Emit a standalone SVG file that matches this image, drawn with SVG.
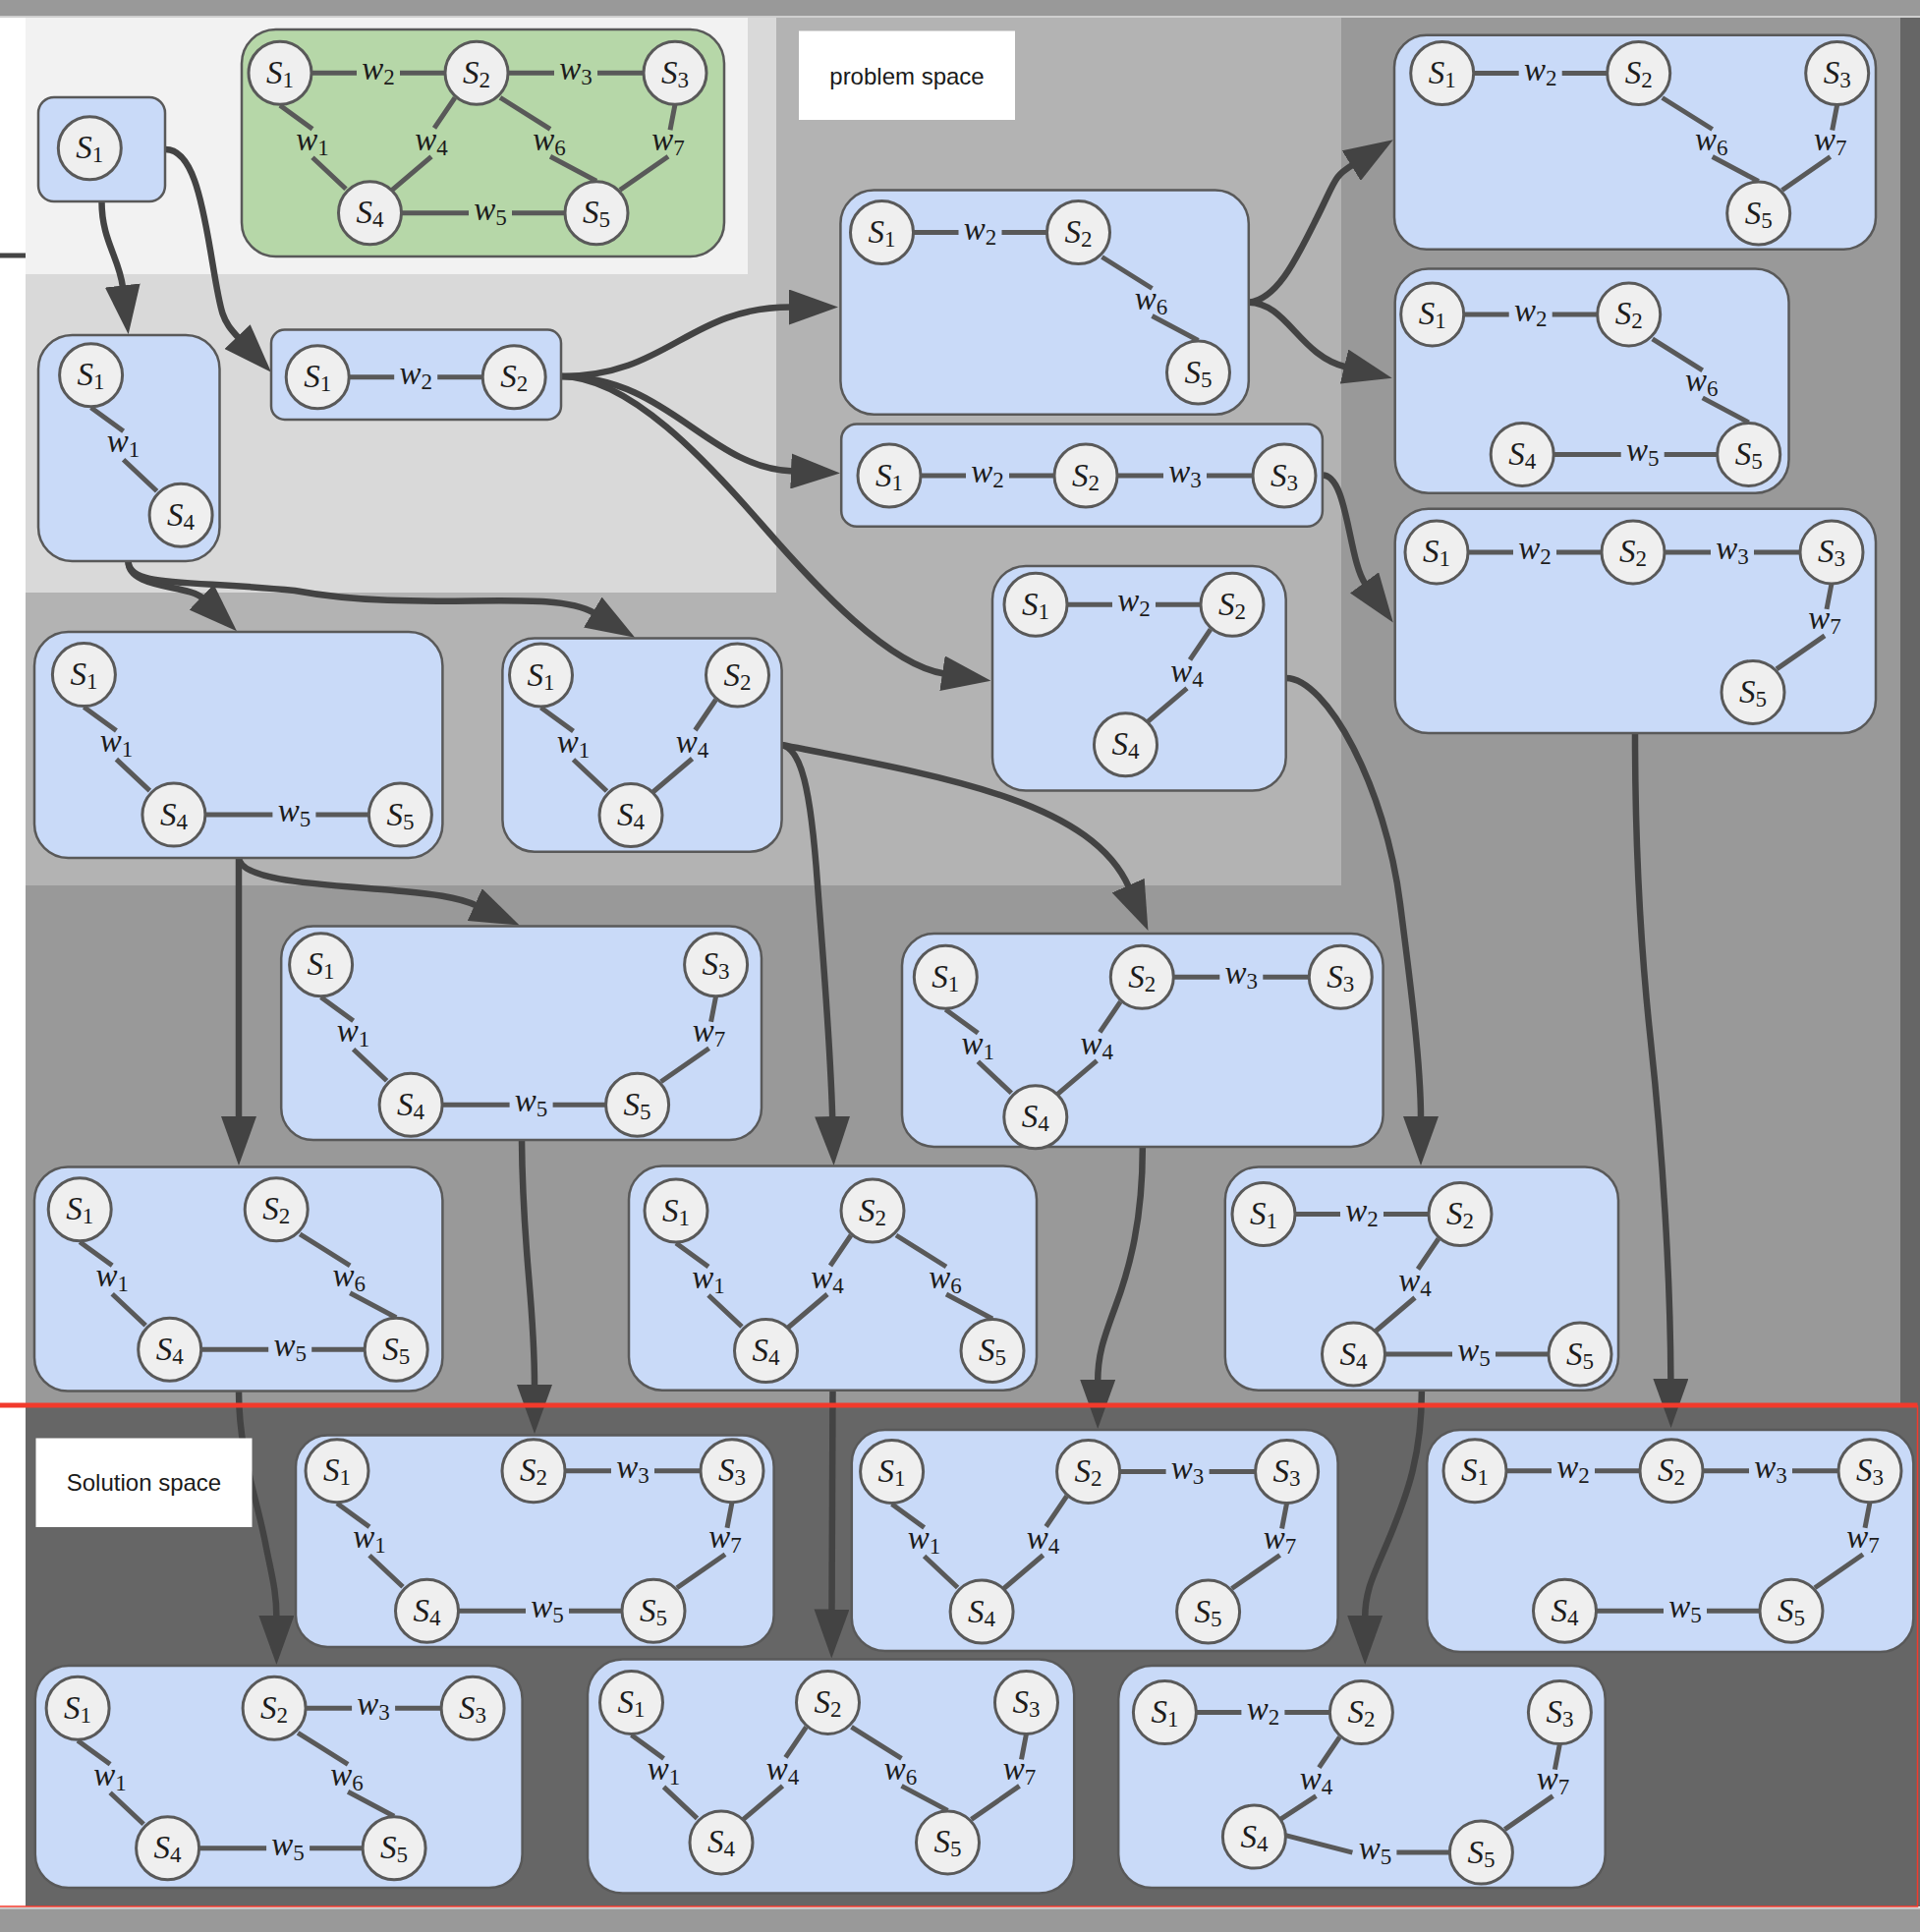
<svg xmlns="http://www.w3.org/2000/svg" width="1954" height="1966" viewBox="0 0 1954 1966">
<style>
.bx{fill:#c9daf8;stroke:#595959;stroke-width:2.5}
.gx{fill:#b6d7a8;stroke:#595959;stroke-width:2.5}
.cc{fill:#efefef;stroke:#595959;stroke-width:3}
.ln{fill:none;stroke:#595959;stroke-width:5}
.sl,.wl{font-family:"Liberation Serif","Times New Roman",serif;font-size:33px;font-style:italic;fill:#1c1c1c;text-anchor:middle}
.sub{font-size:23px;font-style:normal}
.cx path{fill:none;stroke:#434343;stroke-width:6.5;marker-end:url(#ah)}
.tagbox{fill:#ffffff}
.tag{font-family:"Liberation Sans",Arial,sans-serif;font-size:24px;fill:#1a1a1a;text-anchor:middle}
</style>
<defs>
  <marker id="ah" markerUnits="userSpaceOnUse" markerWidth="50" markerHeight="36" refX="2" refY="18" orient="auto">
    <path d="M0,0 L50,18 L0,36 Z" fill="#434343"/>
  </marker>
  <!-- state circles, positioned relative to S1 -->
  <g id="n1"><circle class="cc" r="32"/><text class="sl" y="10.5">S<tspan class="sub" dy="4">1</tspan></text></g>
  <g id="n2" transform="translate(200 0)"><circle class="cc" r="32"/><text class="sl" y="10.5">S<tspan class="sub" dy="4">2</tspan></text></g>
  <g id="n3" transform="translate(402 0)"><circle class="cc" r="32"/><text class="sl" y="10.5">S<tspan class="sub" dy="4">3</tspan></text></g>
  <g id="n4" transform="translate(91.5 142.5)"><circle class="cc" r="32"/><text class="sl" y="10.5">S<tspan class="sub" dy="4">4</tspan></text></g>
  <g id="n5" transform="translate(322 142.5)"><circle class="cc" r="32"/><text class="sl" y="10.5">S<tspan class="sub" dy="4">5</tspan></text></g>
  <g id="n4b" transform="translate(91 126.5)"><circle class="cc" r="32"/><text class="sl" y="10.5">S<tspan class="sub" dy="4">4</tspan></text></g>
  <!-- weighted edges -->
  <g id="e1"><path class="ln" d="M0,33 L33,57 M33,86 L67,118"/><text class="wl" x="33" y="78.5">w<tspan class="sub" dy="5">1</tspan></text></g>
  <g id="e2"><path class="ln" d="M32,0 H78 M122,0 H168"/><text class="wl" x="100" y="7">w<tspan class="sub" dy="5">2</tspan></text></g>
  <g id="e3"><path class="ln" d="M232,0 H279 M323,0 H370"/><text class="wl" x="301" y="7">w<tspan class="sub" dy="5">3</tspan></text></g>
  <g id="e4"><path class="ln" d="M178,25 L157,56 M154,85 L114,119"/><text class="wl" x="154" y="78.5">w<tspan class="sub" dy="5">4</tspan></text></g>
  <g id="e5"><path class="ln" d="M123,142.5 H192 M236,142.5 H290"/><text class="wl" x="214" y="149.5">w<tspan class="sub" dy="5">5</tspan></text></g>
  <g id="e6"><path class="ln" d="M224,25 L275,57 M275,85 L322,110"/><text class="wl" x="274" y="78.5">w<tspan class="sub" dy="5">6</tspan></text></g>
  <g id="e7"><path class="ln" d="M402,32 L397,58 M395,85 L346,119"/><text class="wl" x="395" y="78.5">w<tspan class="sub" dy="5">7</tspan></text></g>
  <g id="e4b"><path class="ln" d="M178,25 L157,56 M154,85 L118,108.5"/><text class="wl" x="154" y="78.5">w<tspan class="sub" dy="5">4</tspan></text></g>
  <g id="e5b"><path class="ln" d="M123,125 L191,142.5 M236,142.5 H290"/><text class="wl" x="214" y="149.5">w<tspan class="sub" dy="5">5</tspan></text></g>
</defs>

<!-- layered background bands -->
<g id="backdrop">
  <rect x="0" y="0" width="1954" height="1966" fill="#ffffff"/>
  <rect x="0" y="0" width="1954" height="16.5" fill="#999999"/>
  <rect x="0" y="16.5" width="1954" height="1.5" fill="#d0d0d0"/>
  <rect x="26" y="18" width="1908" height="1412" fill="#999999"/>
  <rect x="1934" y="18" width="20" height="1412" fill="#666666"/>
  <rect x="26" y="18" width="1339" height="883" fill="#b3b3b3"/>
  <rect x="26" y="18" width="764" height="585" fill="#d9d9d9"/>
  <rect x="26" y="18" width="735" height="261" fill="#f2f2f2"/>
  <rect x="0" y="257.5" width="26" height="5" fill="#444444"/>
  <rect x="26" y="1430" width="1928" height="510" fill="#666666"/>
  <rect x="0" y="1941" width="1954" height="1.5" fill="#d0d0d0"/>
  <rect x="0" y="1942.5" width="1954" height="23.5" fill="#999999"/>
</g>

<g id="connectors" class="cx">
  <path d="M103.5,205 C103.5,245 121.4,262.2 125,292.5"/>
  <path d="M168.4,152 C195,152 205,200 215,260 S225,325 243,344"/>
  <path d="M130.5,571 C130.5,600 191.5,594.5 206.5,609"/>
  <path d="M130.5,571 C131,598 190,590 300,601 C430,625 560,597 605,624"/>
  <path d="M571.2,383 C680,383 700,312.5 805,312.5"/>
  <path d="M571.2,383 C680,383 720,476 807,479.5"/>
  <path d="M571.2,383 C640,383 720,470 776,534.5 C832,599 905,677 961,685.5"/>
  <path d="M1270.8,307.7 C1300,305 1320,262 1340,222 S1357,180 1377,167.6"/>
  <path d="M1270.8,307.7 C1310,308 1322,362 1370,373.5"/>
  <path d="M1346,483.6 C1372,483.6 1372,570 1389.7,594.5"/>
  <path d="M795.6,758 C815,762 825,800 832,900 C838,980 845,1060 847.2,1138"/>
  <path d="M795.6,758 C960,790 1110,815 1149,903"/>
  <path d="M1308.7,690 C1350,690 1410,800 1425,920 C1434,990 1446,1080 1446,1138"/>
  <path d="M1664,746 C1664,850 1668,950 1680,1060 C1692,1170 1700,1300 1700.4,1405"/>
  <path d="M243,873 L243,1138"/>
  <path d="M243,873 C245,897 330,900 400,906 C430,909 462,911 485,921.5"/>
  <path d="M531,1160 C532,1280 544,1320 544,1411"/>
  <path d="M243,1415.5 C243,1480 262,1525 271,1575 C277,1605 281.4,1620 281.4,1646"/>
  <path d="M847.5,1414.7 L846.5,1639.5"/>
  <path d="M1162.8,1167 C1163,1240 1150,1290 1135,1330 C1122,1365 1117.2,1380 1117.2,1406"/>
  <path d="M1446.9,1414.7 C1447,1480 1432,1520 1418,1555 C1400,1600 1389.2,1615 1389.2,1646"/>
</g>

<g id="full-graph">
  <rect class="gx" x="246" y="30" width="491" height="231" rx="34.6"/>
  <g transform="translate(285 74.3)">
    <use href="#e1"/><use href="#e2"/><use href="#e3"/><use href="#e4"/><use href="#e5"/><use href="#e6"/><use href="#e7"/>
    <use href="#n1"/><use href="#n2"/><use href="#n3"/><use href="#n4"/><use href="#n5"/>
  </g>
</g>

<g id="g-s1">
  <rect class="bx" x="39" y="99" width="129" height="106" rx="16"/>
  <g transform="translate(91.3 150.7)"><use href="#n1"/></g>
</g>

<g id="g-w1">
  <rect class="bx" x="39" y="341" width="184.5" height="230" rx="34.5"/>
  <g transform="translate(92.6 381.7)"><use href="#e1"/><use href="#n1"/><use href="#n4"/></g>
</g>

<g id="g-w2">
  <rect class="bx" x="276" y="335.5" width="295" height="91.5" rx="13.7"/>
  <g transform="translate(323.2 383.8)"><use href="#e2"/><use href="#n1"/><use href="#n2"/></g>
</g>

<g id="g-w2w6">
  <rect class="bx" x="855.4" y="193.6" width="415.4" height="228.1" rx="34"/>
  <g transform="translate(897.5 236.5)"><use href="#e2"/><use href="#e6"/><use href="#n1"/><use href="#n2"/><use href="#n5"/></g>
</g>

<g id="g-w2w3">
  <rect class="bx" x="856.2" y="431.4" width="489.7" height="104.4" rx="15.7"/>
  <g transform="translate(905 484)"><use href="#e2"/><use href="#e3"/><use href="#n1"/><use href="#n2"/><use href="#n3"/></g>
</g>

<g id="g-w2w6w7">
  <rect class="bx" x="1419" y="35.8" width="490" height="218" rx="32.7"/>
  <g transform="translate(1467.7 74.5)"><use href="#e2"/><use href="#e6"/><use href="#e7"/><use href="#n1"/><use href="#n2"/><use href="#n3"/><use href="#n5"/></g>
</g>

<g id="g-w2w6w5">
  <rect class="bx" x="1419.7" y="273.6" width="400.8" height="228.1" rx="34"/>
  <g transform="translate(1457.7 319.9)"><use href="#e2"/><use href="#e6"/><use href="#e5"/><use href="#n1"/><use href="#n2"/><use href="#n4"/><use href="#n5"/></g>
</g>

<g id="g-w2w3w7">
  <rect class="bx" x="1419.7" y="517.7" width="489.3" height="228.3" rx="34"/>
  <g transform="translate(1462 561.9)"><use href="#e2"/><use href="#e3"/><use href="#e7"/><use href="#n1"/><use href="#n2"/><use href="#n3"/><use href="#n5"/></g>
</g>

<g id="g-w2w4">
  <rect class="bx" x="1010" y="576" width="298.7" height="228.5" rx="34"/>
  <g transform="translate(1054 615.3)"><use href="#e2"/><use href="#e4"/><use href="#n1"/><use href="#n2"/><use href="#n4"/></g>
</g>

<g id="g-w1w5">
  <rect class="bx" x="35" y="643" width="415.4" height="230" rx="34.5"/>
  <g transform="translate(85.4 686.6)"><use href="#e1"/><use href="#e5"/><use href="#n1"/><use href="#n4"/><use href="#n5"/></g>
</g>

<g id="g-w1w4">
  <rect class="bx" x="511.4" y="649.5" width="284.2" height="217.3" rx="32.6"/>
  <g transform="translate(550.5 687)"><use href="#e1"/><use href="#e4"/><use href="#n1"/><use href="#n2"/><use href="#n4"/></g>
</g>

<g id="g-w1w5w7">
  <rect class="bx" x="286.2" y="942.5" width="488.8" height="217.6" rx="32.6"/>
  <g transform="translate(326.6 981.7)"><use href="#e1"/><use href="#e5"/><use href="#e7"/><use href="#n1"/><use href="#n3"/><use href="#n4"/><use href="#n5"/></g>
</g>

<g id="g-w1w4w3">
  <rect class="bx" x="918" y="950" width="489.6" height="217" rx="32.6"/>
  <g transform="translate(962.3 994.3)"><use href="#e1"/><use href="#e4"/><use href="#e3"/><use href="#n1"/><use href="#n2"/><use href="#n3"/><use href="#n4"/></g>
</g>

<g id="g-w1w5w6">
  <rect class="bx" x="35" y="1187.5" width="415.4" height="228" rx="34"/>
  <g transform="translate(81.2 1230.8)"><use href="#e1"/><use href="#e6"/><use href="#e5"/><use href="#n1"/><use href="#n2"/><use href="#n4"/><use href="#n5"/></g>
</g>

<g id="g-w1w4w6">
  <rect class="bx" x="640" y="1186.6" width="415" height="228.1" rx="34"/>
  <g transform="translate(688 1232)"><use href="#e1"/><use href="#e4"/><use href="#e6"/><use href="#n1"/><use href="#n2"/><use href="#n4"/><use href="#n5"/></g>
</g>

<g id="g-w2w4w5">
  <rect class="bx" x="1246.8" y="1187.5" width="400.2" height="227.2" rx="34"/>
  <g transform="translate(1286 1235.5)"><use href="#e2"/><use href="#e4"/><use href="#e5"/><use href="#n1"/><use href="#n2"/><use href="#n4"/><use href="#n5"/></g>
</g>

<g id="g-w1w5w3w7">
  <rect class="bx" x="301" y="1460.5" width="486.6" height="215.4" rx="32.3"/>
  <g transform="translate(343 1496.7)"><use href="#e1"/><use href="#e5"/><use href="#e3"/><use href="#e7"/><use href="#n1"/><use href="#n2"/><use href="#n3"/><use href="#n4"/><use href="#n5"/></g>
</g>

<g id="g-w1w4w3w7">
  <rect class="bx" x="866.8" y="1455" width="494.8" height="225.1" rx="33.8"/>
  <g transform="translate(907.6 1497.5)"><use href="#e1"/><use href="#e4"/><use href="#e3"/><use href="#e7"/><use href="#n1"/><use href="#n2"/><use href="#n3"/><use href="#n4"/><use href="#n5"/></g>
</g>

<g id="g-w2w3w7w5">
  <rect class="bx" x="1452.2" y="1455" width="495.1" height="226" rx="33.9"/>
  <g transform="translate(1501 1496.7)"><use href="#e2"/><use href="#e3"/><use href="#e7"/><use href="#e5"/><use href="#n1"/><use href="#n2"/><use href="#n3"/><use href="#n4"/><use href="#n5"/></g>
</g>

<g id="g-w1w3w6w5">
  <rect class="bx" x="35.8" y="1695" width="495.8" height="226" rx="33.9"/>
  <g transform="translate(79.1 1738.3)"><use href="#e1"/><use href="#e3"/><use href="#e6"/><use href="#e5"/><use href="#n1"/><use href="#n2"/><use href="#n3"/><use href="#n4"/><use href="#n5"/></g>
</g>

<g id="g-w1w4w6w7">
  <rect class="bx" x="598" y="1688.6" width="495.2" height="237.9" rx="35.7"/>
  <g transform="translate(642.5 1732.4)"><use href="#e1"/><use href="#e4"/><use href="#e6"/><use href="#e7"/><use href="#n1"/><use href="#n2"/><use href="#n3"/><use href="#n4"/><use href="#n5"/></g>
</g>

<g id="g-w2w4w5w7">
  <rect class="bx" x="1138.2" y="1695" width="495.5" height="226" rx="33.9"/>
  <g transform="translate(1185.4 1742.6)"><use href="#e2"/><use href="#e4b"/><use href="#e5b"/><use href="#e7"/><use href="#n1"/><use href="#n2"/><use href="#n3"/><use href="#n4b"/><use href="#n5"/></g>
</g>

<!-- solution space frame: heavy top rule, thin right and bottom rules -->
<g id="solution-frame" fill="none" stroke="#f23a2c">
  <path d="M0,1940 H1951.5 V1430" stroke-width="1.5"/>
  <line x1="0" y1="1430" x2="1951.5" y2="1430" stroke-width="5"/>
</g>

<g id="tag-problem">
  <rect class="tagbox" x="813" y="31.5" width="220" height="90.5"/>
  <text class="tag" x="923" y="85.5">problem space</text>
</g>
<g id="tag-solution">
  <rect class="tagbox" x="36.5" y="1463.5" width="220" height="90.5"/>
  <text class="tag" x="146.5" y="1517">Solution space</text>
</g>
</svg>
